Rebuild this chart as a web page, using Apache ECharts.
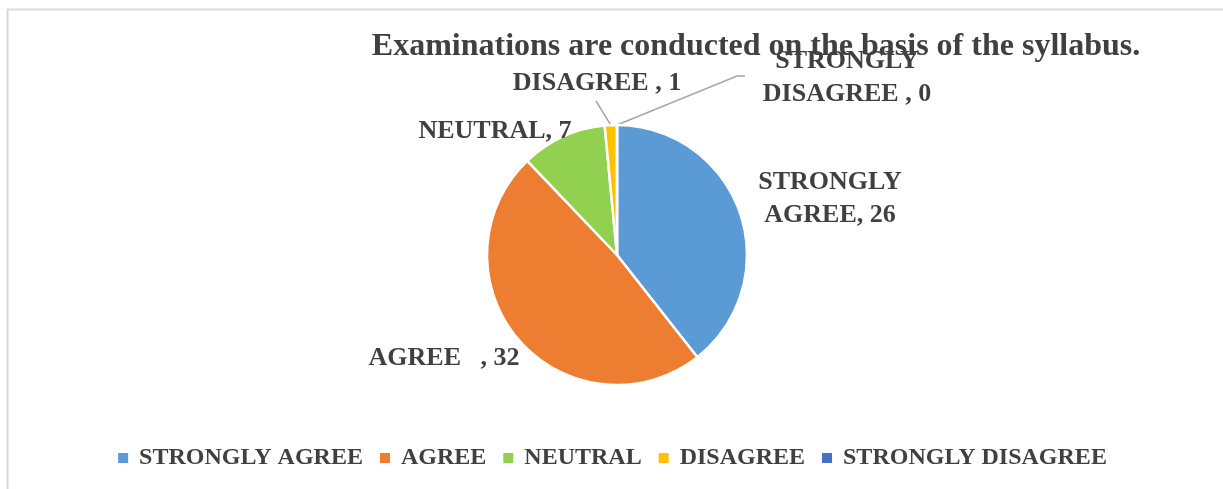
<!DOCTYPE html>
<html>
<head>
<meta charset="utf-8">
<style>
  html, body { margin: 0; padding: 0; background: #ffffff; }
  #chart { width: 1223px; height: 489px; }
</style>
<script src="https://cdn.jsdelivr.net/npm/echarts@6/dist/echarts.min.js"></script>
</head>
<body>
<div id="chart"></div>
<script>
const titleText = 'Examinations are conducted on the basis of the syllabus.';
const categories = ['STRONGLY AGREE', 'AGREE', 'NEUTRAL', 'DISAGREE', 'STRONGLY DISAGREE'];
const labelNames = ['STRONGLY\nAGREE', 'AGREE   ', 'NEUTRAL', 'DISAGREE ', 'STRONGLY\nDISAGREE '];
const values = [26, 32, 7, 1, 0];
const colors = ['#5B9BD5', '#ED7D31', '#92D050', '#FFC000', '#4472C4'];

const FONT = '"Liberation Serif", "Times New Roman", serif';
const TEXT = '#404040';

// label placement (text centre positions), per category
const labelPos = [
  { x: 830, y: 199 },
  { x: 444, y: 358 },
  { x: 495, y: 131 },
  { x: 597, y: 83 },
  { x: 847, y: 78 }
];

const chart = echarts.init(document.getElementById('chart'), null, { renderer: 'canvas' });

const data = categories.map((c, i) => ({
  name: c,
  value: values[i],
  itemStyle: { color: colors[i] },
  label: { formatter: labelNames[i] + ', ' + values[i] },
  labelLine: { show: i >= 3 }
}));

chart.setOption({
  animation: false,
  backgroundColor: '#ffffff',
  color: colors,
  graphic: [{
    type: 'rect',
    shape: { x: 7.5, y: 9.5, width: 1300, height: 600 },
    style: { fill: 'none', stroke: '#d9d9d9', lineWidth: 2 },
    silent: true,
    z: -10
  }],
  title: {
    text: titleText,
    left: 751,
    textAlign: 'center',
    top: 26,
    textStyle: { fontFamily: FONT, fontWeight: 'bold', fontSize: 32, color: TEXT }
  },
  legend: {
    bottom: 14,
    left: 'center',
    icon: 'rect',
    itemWidth: 12,
    itemHeight: 12,
    itemGap: 15,
    textStyle: { fontFamily: FONT, fontWeight: 'bold', fontSize: 24, color: TEXT, padding: [0, 0, 0, 5] },
    data: categories
  },
  series: [{
    type: 'pie',
    center: [617, 255],
    radius: [0, 130],
    startAngle: 90,
    clockwise: true,
    avoidLabelOverlap: false,
    itemStyle: { borderColor: '#ffffff', borderWidth: 2.5 },
    label: {
      show: true,
      position: 'outside',
      fontFamily: FONT,
      fontWeight: 'bold',
      fontSize: 26,
      color: TEXT,
      lineHeight: 33
    },
    labelLine: {
      show: true,
      length: 15,
      length2: 10,
      lineStyle: { color: '#a6a6a6', width: 1.5 }
    },
    labelLayout: function (params) {
      const i = params.dataIndex;
      const p = labelPos[i];
      const out = { x: p.x, y: p.y, align: 'center', verticalAlign: 'middle' };
      const pts = params.labelLinePoints;
      if (pts && pts.length) {
        const start = pts[0];
        if (i === 3) {
          out.labelLinePoints = [start, [p.x - 1, p.y + 18]];
        } else if (i === 4) {
          out.labelLinePoints = [start, [p.x - 110, p.y - 2], [p.x - 102, p.y - 2]];
        }
      }
      return out;
    },
    data: data
  }]
});
</script>
</body>
</html>
